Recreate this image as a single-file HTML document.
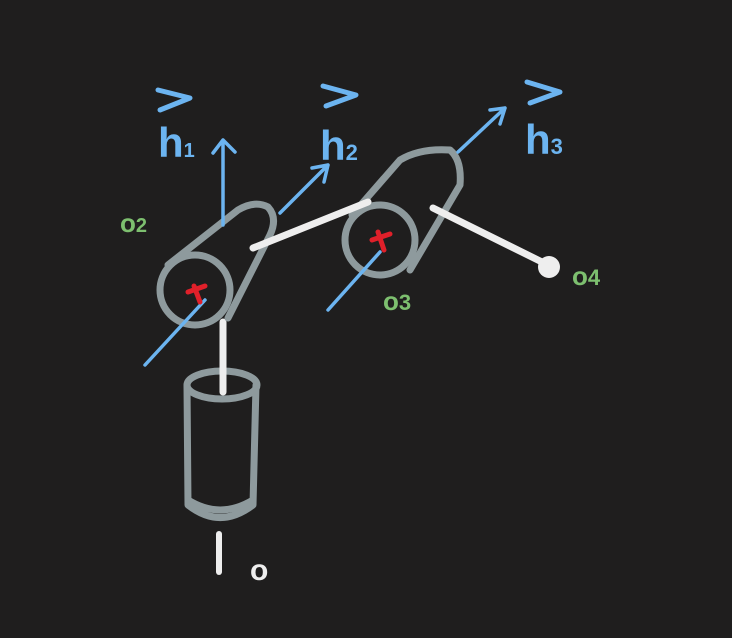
<!DOCTYPE html>
<html><head><meta charset="utf-8"><style>
html,body{margin:0;padding:0;background:#1f1e1e;}
svg{display:block}
text{font-family:"Liberation Sans",sans-serif;font-weight:bold}
</style></head><body>
<svg width="732" height="638" viewBox="0 0 732 638">
<rect width="732" height="638" fill="#1f1e1e"/>
<g fill="none" stroke-linecap="round" stroke-linejoin="round">
 <g stroke="#8e9a9d" stroke-width="7">
  <ellipse cx="222" cy="385" rx="35" ry="14"/>
  <path d="M187 385 L188 505 Q220 530 253 505 L256 385"/>
  <path d="M188 500 Q220 520 253 500"/>
 </g>
 <path d="M223 322 L223 392" stroke="#eeeeee" stroke-width="7"/>
 <path d="M219 534 L219 572" stroke="#eeeeee" stroke-width="6"/>
 <g stroke="#8e9a9d" stroke-width="7">
  <circle cx="195" cy="290" r="35"/>
  <path d="M168 265 L238 210 Q255 200 268 207 Q278 218 270 235 L228 318"/>
 </g>
 <g stroke="#8e9a9d" stroke-width="7">
  <circle cx="380" cy="240" r="35"/>
  <path d="M352 215 L400 160 Q420 148 450 150 Q462 160 460 185 L410 270"/>
 </g>
 <path d="M253 248 L368 202" stroke="#eeeeee" stroke-width="7"/>
 <path d="M433 208 L548 265" stroke="#eeeeee" stroke-width="7"/>
 <g stroke="#6cb4f0" stroke-width="3.5">
  <path d="M145 365 L205 300"/>
  <path d="M223 225 L223 140 M213 153 L223 140 L235 152"/>
  <path d="M280 213 L328 165 M312 168 L328 165 L324 182"/>
  <path d="M328 310 L380 252"/>
  <path d="M458 152 L505 108 M490 110 L505 108 L500 124"/>
  <path d="M158 90 L190 98 L160 110" stroke-width="5"/>
  <path d="M323 86 L356 95 L326 106" stroke-width="5"/>
  <path d="M527 82 L560 92 L530 103" stroke-width="5"/>
 </g>
 <g stroke="#e0202a" stroke-width="5">
  <path d="M188 292 L205 286 M194 286 L200 302"/>
 </g>
 <g stroke="#e0202a" stroke-width="5">
  <path d="M372 240 L390 234 M378 232 L384 250"/>
 </g>
</g>
<circle cx="549" cy="267" r="11" fill="#eeeeee"/>
<text x="158" y="157" font-size="42" fill="#6cb4f0">h<tspan font-size="20">1</tspan></text>
<text x="320" y="160" font-size="42" fill="#6cb4f0">h<tspan font-size="22">2</tspan></text>
<text x="525" y="154" font-size="42" fill="#6cb4f0">h<tspan font-size="22">3</tspan></text>
<text x="120" y="232" font-size="26" fill="#7dbf6f">o<tspan font-size="20">2</tspan></text>
<text x="383" y="310" font-size="26" fill="#7dbf6f">o<tspan font-size="22">3</tspan></text>
<text x="572" y="285" font-size="26" fill="#7dbf6f">o<tspan font-size="22">4</tspan></text>
<text x="250" y="580" font-size="30" fill="#eeeeee">o</text>
</svg>
</body></html>
